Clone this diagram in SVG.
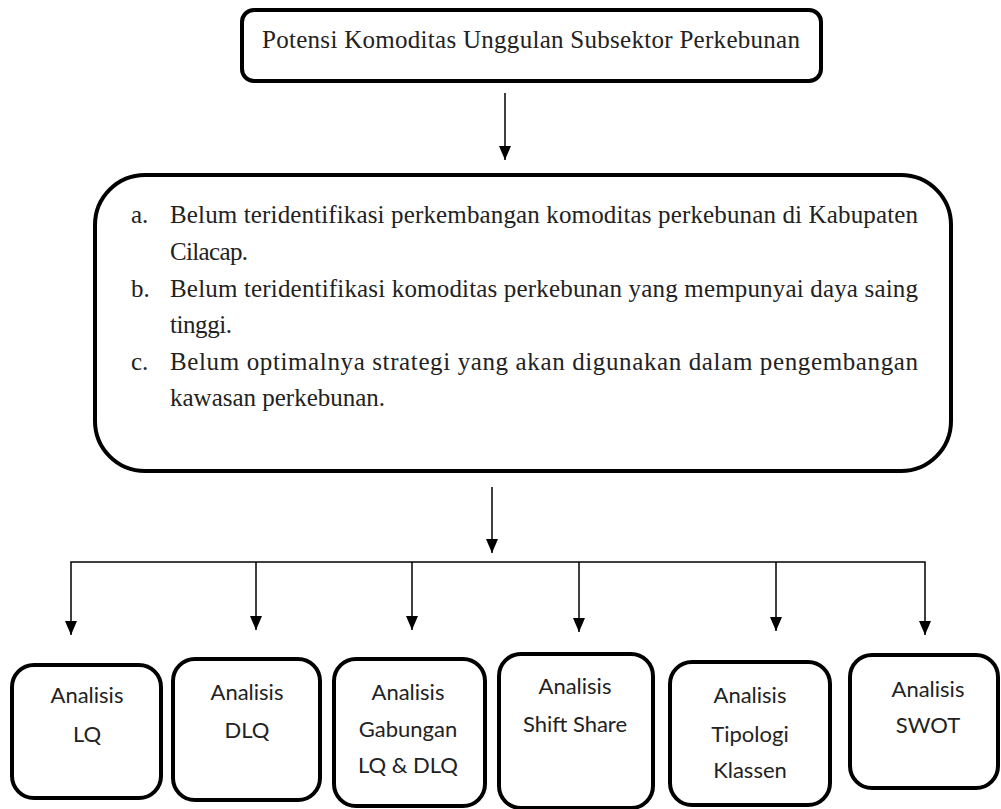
<svg xmlns="http://www.w3.org/2000/svg" width="1001" height="809" viewBox="0 0 1001 809">
<style>
.box{fill:#fff;stroke:#000;stroke-width:4}
.ser{font-family:'Liberation Serif','Times New Roman',serif;fill:#222}
.san{font-family:Lato,'Open Sans','Liberation Sans',sans-serif;font-size:22px;fill:#222;text-anchor:middle}
.con{stroke:#000;stroke-width:1.5;fill:none}
</style>
<defs>
<marker id="ah" markerWidth="14" markerHeight="12" refX="14" refY="6" orient="auto-start-reverse" markerUnits="userSpaceOnUse" viewBox="0 0 14 12">
<path d="M0,0 L14,6 L0,12 Z" fill="#000"/>
</marker>
</defs>
<rect width="1001" height="809" fill="#fff"/>
<g id="top">
<rect class="box" x="242" y="10" width="579" height="71" rx="12"/>
<text class="ser" font-family="Liberation Serif, serif" x="262" y="48" font-size="25" textLength="538">Potensi Komoditas Unggulan Subsektor Perkebunan</text>
</g>
<g id="masalah">
<rect class="box" x="95" y="175" width="856" height="296" rx="50"/>
<g class="ser" font-family="Liberation Serif, serif" font-size="25">
<text x="131" y="223">a.</text>
<text x="170" y="223" textLength="748">Belum teridentifikasi perkembangan komoditas perkebunan di Kabupaten</text>
<text x="170" y="260" textLength="78">Cilacap.</text>
<text x="131" y="297">b.</text>
<text x="170" y="297" textLength="748">Belum teridentifikasi komoditas perkebunan yang mempunyai daya saing</text>
<text x="170" y="333" textLength="62">tinggi.</text>
<text x="131" y="370">c.</text>
<text x="170" y="370" textLength="748">Belum optimalnya strategi yang akan digunakan dalam pengembangan</text>
<text x="170" y="406" textLength="215">kawasan perkebunan.</text>
</g>
</g>
<g id="connectors">
<line class="con" x1="505" y1="93" x2="505" y2="160" marker-end="url(#ah)"/>
<line class="con" x1="492" y1="487" x2="492" y2="553" marker-end="url(#ah)"/>
<polyline class="con" points="71,635 71,562 925,562 925,635" marker-start="url(#ah)" marker-end="url(#ah)"/>
<line class="con" x1="256" y1="562" x2="256" y2="630" marker-end="url(#ah)"/>
<line class="con" x1="412" y1="562" x2="412" y2="630" marker-end="url(#ah)"/>
<line class="con" x1="579" y1="562" x2="579" y2="632" marker-end="url(#ah)"/>
<line class="con" x1="776" y1="562" x2="776" y2="631" marker-end="url(#ah)"/>
</g>
<g id="lq">
<rect class="box" x="12" y="665" width="149" height="133" rx="22"/>
<text class="san" x="87" y="703">Analisis</text>
<text class="san" x="87" y="742">LQ</text>
</g>
<g id="dlq">
<rect class="box" x="173" y="659" width="147" height="141" rx="22"/>
<text class="san" x="247" y="700">Analisis</text>
<text class="san" x="247" y="738">DLQ</text>
</g>
<g id="gabungan">
<rect class="box" x="334" y="659" width="151" height="147" rx="22"/>
<text class="san" x="408" y="700">Analisis</text>
<text class="san" x="408" y="737">Gabungan</text>
<text class="san" x="408" y="773">LQ &amp; DLQ</text>
</g>
<g id="shiftshare">
<rect class="box" x="499" y="654" width="154" height="154" rx="22"/>
<text class="san" x="575" y="694">Analisis</text>
<text class="san" x="575" y="732">Shift Share</text>
</g>
<g id="tipologi">
<rect class="box" x="670" y="662" width="160" height="143" rx="22"/>
<text class="san" x="750" y="703">Analisis</text>
<text class="san" x="750" y="742">Tipologi</text>
<text class="san" x="750" y="778">Klassen</text>
</g>
<g id="swot">
<rect class="box" x="850" y="655" width="148" height="133" rx="22"/>
<text class="san" x="928" y="697">Analisis</text>
<text class="san" x="928" y="733">SWOT</text>
</g>
</svg>
